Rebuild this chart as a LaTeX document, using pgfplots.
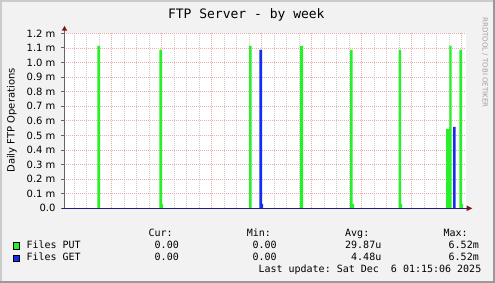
\documentclass[border=0pt]{standalone}
\usepackage{pgfplots}
\pgfplotsset{compat=1.18}
\usepackage{fontspec}
\setmainfont{DejaVu Sans}
\setmonofont{DejaVu Sans Mono}
\definecolor{bgcol}{RGB}{242,242,242}
\definecolor{shadea}{RGB}{203,203,203}
\definecolor{shadeb}{RGB}{153,153,153}
\definecolor{mgrid}{RGB}{234,172,172}
\definecolor{ngrid}{RGB}{205,205,205}
\definecolor{putgreen}{RGB}{40,240,40}
\definecolor{getblue}{RGB}{20,45,240}
\definecolor{axisgray}{RGB}{100,100,100}
\definecolor{axisnavy}{RGB}{30,30,130}
\definecolor{arrowred}{RGB}{128,20,20}
\definecolor{wmark}{RGB}{160,160,160}
\begin{document}
\begin{tikzpicture}[x=1pt,y=1pt]
\fill[bgcol] (0,0) rectangle (495,283);
\fill[shadea] (0,0) rectangle (2,283);
\fill[shadea] (0,281) rectangle (495,283);
\fill[shadeb] (493,0) rectangle (495,283);
\fill[shadeb] (0,0) rectangle (495,2);
\begin{axis}[
  at={(64pt,74.7pt)}, anchor=south west,
  scale only axis, width=402pt, height=175pt,
  xmin=-0.954, xmax=7.086, ymin=0, ymax=1.2,
  axis background/.style={fill=white},
  axis line style={draw=none},
  xmajorticks=false, xminorticks=false, yminorticks=false,
  minor tick length=0pt,
  ytick pos=left, tick align=outside, major tick length=3pt,
  ytick style={draw=axisgray, line width=0.8pt},
  xtick={0,1,2,3,4,5,6,7}, xticklabels={},
  minor xtick={-0.75,-0.5,-0.25,0.25,0.5,0.75,1.25,1.5,1.75,2.25,2.5,2.75,3.25,3.5,3.75,4.25,4.5,4.75,5.25,5.5,5.75,6.25,6.5,6.75},
  ytick={0,0.1,0.2,0.3,0.4,0.5,0.6,0.7,0.8,0.9,1.0,1.1,1.2},
  yticklabels={0.0,0.1 m,0.2 m,0.3 m,0.4 m,0.5 m,0.6 m,0.7 m,0.8 m,0.9 m,1.0 m,1.1 m,1.2 m},
  extra x ticks={-0.5,0.5,1.5,2.5,3.5,4.5,5.5,6.5},
  extra x tick labels={28,29,30,01,02,03,04,05},
  extra x tick style={grid=none},
  xmajorgrids=true, xminorgrids=true, ymajorgrids=true,
  major grid style={draw=mgrid, line width=0.75pt, dash pattern=on 1pt off 1pt},
  minor grid style={draw=ngrid, line width=0.75pt, dash pattern=on 1pt off 1pt},
  ticklabel style={font=\fontsize{10}{12}\selectfont, inner sep=0pt},
  yticklabel style={xshift=-5.3pt},
  xticklabel style={yshift=-4.3pt},
  clip=false,
]
\addplot[const plot, fill=putgreen, draw=none] coordinates {
  (-0.954,0) (-0.288,1.113) (-0.234,0)
  (0.952,1.086) (1.006,0.03) (1.026,0)
  (2.746,1.113) (2.800,0)
  (3.766,1.113) (3.826,0)
  (4.766,1.086) (4.820,0.03) (4.846,0)
  (5.740,1.086) (5.786,0.03) (5.806,0)
  (6.686,0.544) (6.752,1.115) (6.800,0)
  (6.952,1.086) (7.006,0.03) (7.026,0)
  (7.086,0)
} \closedcycle;
\addplot[const plot, fill=getblue, draw=none] coordinates {
  (-0.954,0) (2.952,1.086) (3.006,0.03) (3.026,0)
  (6.826,0.558) (6.880,0) (7.086,0)
} \closedcycle;
\end{axis}
% axes and arrows
\draw[axisgray, line width=0.9pt] (64.3,74.7) -- (64.3,253);
\draw[axisnavy, line width=1pt] (61.7,74.7) -- (467,74.7);
\fill[arrowred] (61.7,252.3) -- (67.3,252.3) -- (64.5,257) -- cycle;
\fill[arrowred] (466.7,77.4) -- (466.7,72) -- (472.3,74.7) -- cycle;
% title and labels
\node[anchor=base, inner sep=0pt, font=\ttfamily\fontsize{13}{15}\selectfont] at (246.3,264.7) {FTP Server - by week};
\node[anchor=base, inner sep=0pt, rotate=90, font=\fontsize{10}{12}\selectfont] at (14.5,162.5) {Daily FTP Operations};
\node[anchor=center, inner sep=0pt, rotate=-90, text=wmark, font=\fontsize{7}{8}\selectfont] at (485,220.5) {RRDTOOL / TOBI OETIKER};
% legend
\begin{scope}[every node/.style={inner sep=0pt, font=\ttfamily\fontsize{10}{12}\selectfont}]
\node[anchor=base west] at (148.3,46.5) {Cur:};
\node[anchor=base west] at (246.7,46.5) {Min:};
\node[anchor=base west] at (345,46.5) {Avg:};
\node[anchor=base west] at (443.3,46.5) {Max:};
\fill[putgreen, draw=black, line width=0.8pt] (13.6,34) rectangle (19.8,40.2);
\node[anchor=base west] at (26.3,34.2) {Files PUT};
\node[anchor=base east] at (179,34.2) {0.00};
\node[anchor=base east] at (276.8,34.2) {0.00};
\node[anchor=base east] at (381.5,34.2) {29.87u};
\node[anchor=base east] at (479,34.2) {6.52m};
\fill[getblue, draw=black, line width=0.8pt] (13.6,21.5) rectangle (19.8,27.7);
\node[anchor=base west] at (26.3,22) {Files GET};
\node[anchor=base east] at (179,22) {0.00};
\node[anchor=base east] at (276.8,22) {0.00};
\node[anchor=base east] at (381.5,22) {4.48u};
\node[anchor=base east] at (479,22) {6.52m};
\node[anchor=base east] at (481.5,10.3) {Last update: Sat Dec\ \ 6 01:15:06 2025};
\end{scope}
\end{tikzpicture}
\end{document}
